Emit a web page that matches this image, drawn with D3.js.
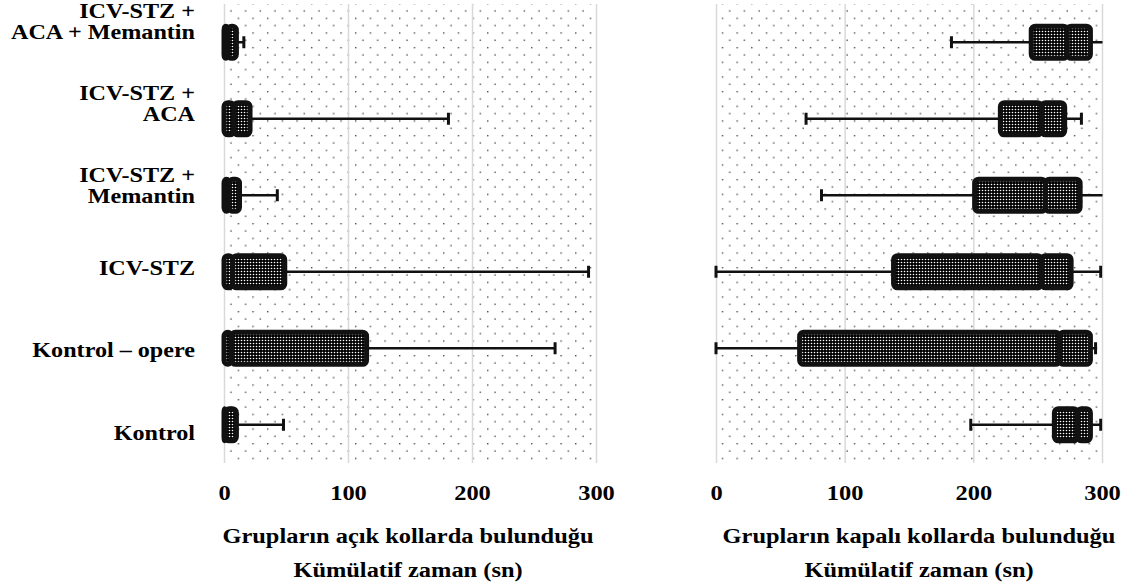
<!DOCTYPE html>
<html>
<head>
<meta charset="utf-8">
<script src="https://cdn.jsdelivr.net/npm/d3@7"></script>
<style>
  body { margin: 0; background: #fff; }
</style>
</head>
<body>
<div id="chart"></div>
<script>
// groups, top to bottom
var categories = ["ICV-STZ + ACA + Memantin", "ICV-STZ + ACA", "ICV-STZ + Memantin", "ICV-STZ", "Kontrol – opere", "Kontrol"];
var labelLines = [["ICV-STZ +", "ACA + Memantin"], ["ICV-STZ +", "ACA"], ["ICV-STZ +", "Memantin"], ["ICV-STZ"], ["Kontrol – opere"], ["Kontrol"]];
var tickValues = [0, 100, 200, 300];

// open arms (sn)
var openMin = [0, 0, 0, 0, 0, 0];
var openQ1  = [0, 0, 0, 0, 0, 0];
var openMed = [3, 8, 4, 7, 6, 1];
var openQ3  = [10, 21, 12.5, 49, 115, 10];
var openMax = [16, 181, 43, 294, 267, 48];

// closed arms (sn)
var closedMin = [183, 70, 82, 0, 0, 198];
var closedQ1  = [245, 221, 201, 138, 65, 263];
var closedMed = [273, 253, 256, 253, 267, 281];
var closedQ3  = [291, 271, 283, 276, 291, 291];
var closedMax = [302, 284, 302, 299, 295, 299];

var svgWidth = 1131;
var svgHeight = 587;
var plotTop = 4, plotBottom = 463;
var serif = "'Liberation Serif', 'Times New Roman', serif";

var svg = d3.select("#chart")
  .append("svg")
  .attr("width", svgWidth)
  .attr("height", svgHeight);

var defs = svg.append("defs");

// light dotted background (Excel 5% pattern)
var bg = defs.append("pattern")
  .attr("id", "bgdots")
  .attr("patternUnits", "userSpaceOnUse")
  .attr("width", 14.67)
  .attr("height", 14.67);
bg.append("rect").attr("width", 14.67).attr("height", 14.67).attr("fill", "#fff");
bg.append("rect").attr("x", 3).attr("y", 3).attr("width", 1.3).attr("height", 1.3).attr("fill", "#333");
bg.append("rect").attr("x", 10.3).attr("y", 10.3).attr("width", 1.3).attr("height", 1.3).attr("fill", "#333");

// dense dots for the boxes
var bp = defs.append("pattern")
  .attr("id", "boxdots")
  .attr("patternUnits", "userSpaceOnUse")
  .attr("width", 3)
  .attr("height", 3);
bp.append("rect").attr("width", 3).attr("height", 3).attr("fill", "#000");
bp.append("circle").attr("cx", 1.5).attr("cy", 1.5).attr("r", 0.8).attr("fill", "#fff");

var y = d3.scaleBand()
  .domain(categories)
  .range([plotTop, plotBottom])
  .paddingInner(0)
  .paddingOuter(0);

// the original text is a bit wider than the font, so stretch it sideways
function addText(parent, x, yy, lines, size, sx, anchor, lead) {
  var t = parent.append("text")
    .attr("transform", `translate(${x}, ${yy}) scale(${sx}, 1)`)
    .attr("text-anchor", anchor)
    .style("font-family", serif)
    .style("font-size", size + "px")
    .style("font-weight", "bold")
    .attr("fill", "#000");
  lines.forEach(function(l, j) {
    t.append("tspan").attr("x", 0).attr("y", j * lead).text(l);
  });
  return t;
}

function drawPanel(id, x0, x1, mins, q1s, meds, q3s, maxs, title, titleShift) {
  var x = d3.scaleLinear().domain([0, 300]).range([x0, x1]);
  var g = svg.append("g");

  defs.append("clipPath").attr("id", "clip" + id)
    .append("rect")
    .attr("x", x0 - 4).attr("y", plotTop)
    .attr("width", x1 - x0 + 4.5).attr("height", plotBottom - plotTop);

  g.append("rect")
    .attr("x", x0).attr("y", plotTop)
    .attr("width", x1 - x0).attr("height", plotBottom - plotTop)
    .attr("fill", "url(#bgdots)");

  // gridlines
  var grid = g.append("g")
    .attr("transform", `translate(0, ${plotBottom})`)
    .call(d3.axisBottom(x).tickValues(tickValues).tickSize(-(plotBottom - plotTop)).tickFormat(""));
  grid.select(".domain").remove();
  grid.selectAll("line").attr("stroke", "#d9d9d9").attr("stroke-width", 1.5);

  // tick labels
  var ax = g.append("g")
    .attr("transform", `translate(0, ${plotBottom})`)
    .call(d3.axisBottom(x).tickValues(tickValues).tickSize(0));
  ax.select(".domain").remove();
  ax.selectAll("text")
    .attr("y", 0).attr("dy", 0)
    .attr("transform", "translate(0, 37) scale(1.11, 1)")
    .style("font-family", serif)
    .style("font-size", "22px")
    .style("font-weight", "bold")
    .attr("fill", "#000");

  var marks = g.append("g").attr("clip-path", `url(#clip${id})`);
  var bh = y.bandwidth() * 0.42;

  categories.forEach(function(c, i) {
    var cy = y(c) + y.bandwidth() / 2;
    // whiskers
    marks.append("line")
      .attr("x1", x(mins[i])).attr("x2", x(q1s[i]))
      .attr("y1", cy).attr("y2", cy)
      .attr("stroke", "#111").attr("stroke-width", 2.6);
    marks.append("line")
      .attr("x1", x(q3s[i])).attr("x2", x(maxs[i]))
      .attr("y1", cy).attr("y2", cy)
      .attr("stroke", "#111").attr("stroke-width", 2.6);
    [mins[i], maxs[i]].forEach(function(v) {
      marks.append("line")
        .attr("x1", x(v)).attr("x2", x(v))
        .attr("y1", cy - 6).attr("y2", cy + 6)
        .attr("stroke", "#111").attr("stroke-width", 3);
    });
    // box segments q1-med, med-q3
    [[q1s[i], meds[i]], [meds[i], q3s[i]]].forEach(function(s) {
      marks.append("rect")
        .attr("x", x(s[0])).attr("y", cy - bh / 2)
        .attr("width", Math.max(0, x(s[1]) - x(s[0]))).attr("height", bh)
        .attr("rx", 4)
        .attr("fill", "url(#boxdots)")
        .attr("stroke", "#111").attr("stroke-width", 5)
        .attr("stroke-linejoin", "round");
    });
  });

  addText(g, (x0 + x1) / 2 + titleShift, 543, title, 22, 1.11, "middle", 34);
}

drawPanel("L", 224, 596, openMin, openQ1, openMed, openQ3, openMax,
  ["Grupların açık kollarda bulunduğu", "Kümülatif zaman (sn)"], -2);
drawPanel("R", 716, 1102, closedMin, closedQ1, closedMed, closedQ3, closedMax,
  ["Grupların kapalı kollarda bulunduğu", "Kümülatif zaman (sn)"], 10);

// category labels (Excel spaces them a bit wider than the rows)
var ly = d3.scalePoint().domain(categories).range([21.5, 432.5]);
categories.forEach(function(c, i) {
  var lines = labelLines[i];
  var first = ly(c) - (lines.length - 1) * 21 / 2 + 7;
  addText(svg, 195, first, lines, 21, 1.15, "end", 21);
});
</script>
</body>
</html>
